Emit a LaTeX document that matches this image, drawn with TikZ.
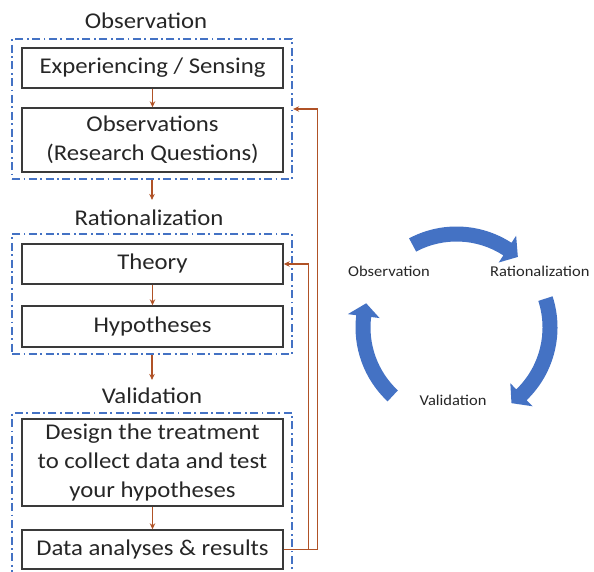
\documentclass[tikz,border=0pt]{standalone}
\usepackage{fontspec}
\setmainfont{Carlito}[FakeStretch=1.1]
\usetikzlibrary{arrows.meta,calc}
\definecolor{txt}{HTML}{262626}
\definecolor{frame}{HTML}{4472C4}
\definecolor{link}{RGB}{176,82,38}
\definecolor{edge}{HTML}{3A3A3A}
\definecolor{cyc}{HTML}{4472C4}

% curved block arrow of the cycle: tail angle, head-base angle, tip angle
\def\Rmid{93.5}
\def\Rout{101}
\def\Rin{86}
\def\Rhout{109.5}
\def\Rhin{77.5}
\newcommand{\cyclearrow}[3]{%
  \fill[cyc] ($(cc)+(#1:\Rout)$) arc[start angle=#1, end angle=#2, radius=\Rout]
    -- ($(cc)+(#2:\Rhout)$) -- ($(cc)+(#3:\Rmid)$) -- ($(cc)+(#2:\Rhin)$)
    -- ($(cc)+(#2:\Rin)$) arc[start angle=#2, end angle=#1, radius=\Rin] -- cycle;}

\begin{document}
\begin{tikzpicture}[x=1pt,y=-1pt,
  stage/.style={draw=edge, line width=1.4pt, fill=white, minimum width=261pt,
    inner sep=0pt, text=txt, font=\fontsize{22.5}{29}\selectfont, align=center},
  phase/.style={text=txt, font=\fontsize{22.5}{27}\selectfont, inner sep=0pt},
  group/.style={draw=frame, line width=2.3pt, inner sep=0pt,
    dash pattern=on 8pt off 3.5pt on 1.8pt off 3.5pt},
  flow/.style={draw=link, line width=1.2pt, -{Stealth[length=6pt,width=5.5pt]}},
  cyclabel/.style={text=txt, font=\fontsize{15}{18}\selectfont, inner sep=0pt},
]
\useasboundingbox (0,0) rectangle (594,572);
\clip (0,0) rectangle (594,572);

% dash-dot frames of the three phases
\node[group, minimum width=280pt, minimum height=140pt] (g1) at (152,109) {};
\node[group, minimum width=280pt, minimum height=120pt] (g2) at (152,294) {};
\node[group, minimum width=280pt, minimum height=190pt] (g3) at (152,508) {};

% phase titles
\node[phase] (t1) at (146,21) {Observation};
\node[phase] (t2) at (149,218) {Rationalization};
\node[phase] (t3) at (152,396) {Validation};

% steps
\node[stage, minimum height=40pt] (exp) at (152.5,68) {Experiencing / Sensing};
\node[stage, minimum height=64pt] (obs) at (152.5,140) {Observations\\(Research Questions)};
\node[stage, minimum height=40pt] (theory) at (152.5,264) {Theory};
\node[stage, minimum height=41pt] (hyp) at (152.5,326.5) {Hypotheses};
\node[stage, minimum height=87pt] (design) at (152.5,462.5) {Design the treatment\\to collect data and test\\your hypotheses};
\node[stage, minimum height=39pt] (data) at (152.5,549.5) {Data analyses \& results};

% forward flow
\draw[flow] (exp) -- (obs);
\draw[flow] (g1.south) -- ($(g1.south |- t2.north)+(0,-10)$);
\draw[flow] (theory) -- (hyp);
\draw[flow] (g2.south) -- ($(g2.south |- t3.north)+(0,-8)$);
\draw[flow] (design) -- (data);

% feedback loops
\draw[flow] (data.east) -- ++(33.5,0) |- (g1.east);
\draw[flow] (data.east) -- ++(24.5,0) |- (theory.east);

% cycle
\coordinate (cc) at (456.5,327.5);
\cyclearrow{-118}{-57}{-49}
\cyclearrow{-18}{46}{54}
\cyclearrow{133}{187}{195}

\node[cyclabel] (lo) at (389,271) {Observation};
\node[cyclabel, anchor=west] (lr) at (490,271) {Rationalization};
\node[cyclabel] (lv) at (453,400) {Validation};
\end{tikzpicture}
\end{document}
